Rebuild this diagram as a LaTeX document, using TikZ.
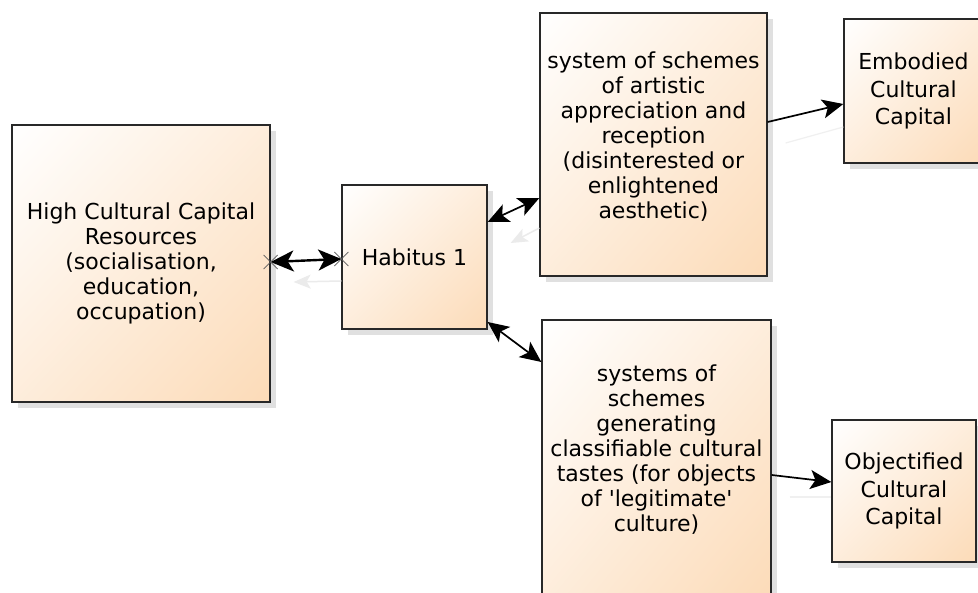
\documentclass[tikz,border=0pt]{standalone}
\usepackage{fontspec}
\setmainfont{DejaVu Sans}[Ligatures=TeXOff]
\usetikzlibrary{arrows.meta,shadows,shadings,calc}
\definecolor{peach}{RGB}{252,219,184}
\definecolor{edgec}{RGB}{40,40,40}
\begin{document}
\begin{tikzpicture}[x=1pt,y=-1pt,
  box/.style={draw=edgec, line width=1.3pt, shade, shading=bilinear interpolation,
    upper left=white, upper right=peach!50, lower left=peach!50, lower right=peach,
    drop shadow={shadow xshift=6pt, shadow yshift=-6pt, fill=black, opacity=0.12},
    inner sep=0pt, align=center, font=\fontsize{22}{25}\selectfont},
  smallbox/.style={box, font=\fontsize{22}{27.5}\selectfont},
  txt/.style={inner sep=0pt, align=center, font=\fontsize{22}{25}\selectfont},
  bigconn/.style={line width=2.4pt, {Stealth[length=23pt,width=21pt,inset=6pt]}-{Stealth[length=23pt,width=21pt,inset=6pt]}},
  dconn/.style={line width=1.7pt, {Stealth[length=21pt,width=19pt,inset=5pt]}-{Stealth[length=21pt,width=19pt,inset=5pt]}},
  sconn/.style={line width=1.7pt, -{Stealth[length=21pt,width=19pt,inset=5pt]}},
  ghost/.style={black!8, line width=1.5pt, -{Stealth[length=17pt,width=14pt,inset=4pt]}},
  xmark/.style={black!65, line width=0.8pt}
]
\useasboundingbox (0,0) rectangle (978,593);
\clip (0,0) rectangle (978,593);
\fill[white] (0,0) rectangle (978,593);

% boxes
\node[box, minimum width=258pt, minimum height=277pt] (high) at (141,263.5)
  {High Cultural Capital\\Resources\\(socialisation,\\education,\\occupation)};
\node[box, minimum width=145pt, minimum height=144pt] (hab) at (414.5,257) {Habitus 1};
\node[box, minimum width=227pt, minimum height=263pt] (sys1) at (653.5,144.5) {};
\node[txt] (sys1t) at (653.5,137)
  {system of schemes\\of artistic\\appreciation and\\reception\\(disinterested or\\enlightened\\aesthetic)};
\node[box, minimum width=229pt, minimum height=280pt] (sys2) at (656.5,460) {};
\node[txt] (sys2t) at (656.5,450)
  {systems of\\schemes\\generating\\classifiable cultural\\tastes (for objects\\of 'legitimate'\\culture)};
\node[smallbox, minimum width=139pt, minimum height=144pt] (emb) at (913.5,91)
  {Embodied\\Cultural\\Capital};
\node[smallbox, minimum width=144pt, minimum height=142pt] (obj) at (904,491)
  {Objectified\\Cultural\\Capital};

% connector end points
\coordinate (a1) at (high.east |- 0,262);
\coordinate (a2) at (hab.west |- 0,259);
\coordinate (b1) at (hab.east |- 0,222);
\coordinate (b2) at (sys1.west |- 0,198);
\coordinate (c1) at (hab.east |- 0,322);
\coordinate (c2) at (sys2.west |- 0,362);
\coordinate (d1) at (sys1.east |- 0,122);
\coordinate (d2) at (emb.west |- 0,104);
\coordinate (e1) at (sys2.east |- 0,475);
\coordinate (e2) at (obj.west |- 0,482);

% faint reflections of connectors
\coordinate (g1s) at (hab.west |- 0,281);
\coordinate (g1e) at ($(high.east |- 0,282)+(23,0)$);
\coordinate (g2s) at (sys1.west |- 0,228);
\coordinate (g2e) at ($(hab.east |- 0,243)+(23,0)$);
\coordinate (g4s) at ($(sys1.east |- 0,143)+(18,0)$);
\coordinate (g4e) at (emb.west |- 0,127);
\coordinate (g5s) at ($(sys2.east |- 0,497)+(18,0)$);
\coordinate (g5e) at (obj.west |- 0,497);
\draw[ghost] (g1s) -- (g1e);
\draw[ghost] (g2s) -- (g2e);
\draw[black!6, line width=1.2pt] (g4s) -- (g4e);
\draw[black!6, line width=1.2pt] (g5s) -- (g5e);

% connectors
\draw[bigconn] (a1) -- (a2);
\draw[dconn] (b1) -- (b2);
\draw[dconn] (c1) -- (c2);
\draw[sconn] (d1) -- (d2);
\draw[sconn] (e1) -- (e2);

% cross marks at the ends of the first connector
\draw[xmark] ($(a1)+(-7,-7)$) -- ($(a1)+(7,7)$) ($(a1)+(-7,7)$) -- ($(a1)+(7,-7)$);
\draw[xmark] ($(a2)+(-7,-7)$) -- ($(a2)+(7,7)$) ($(a2)+(-7,7)$) -- ($(a2)+(7,-7)$);
\end{tikzpicture}
\end{document}
